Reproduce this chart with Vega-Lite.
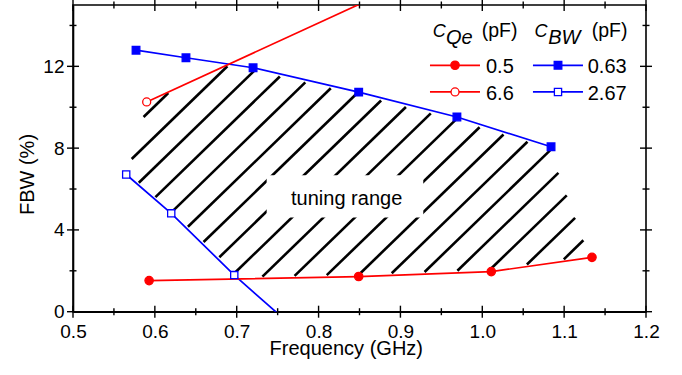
{
  "$schema": "https://vega.github.io/schema/vega-lite/v6.json",
  "width": 573,
  "height": 306.7,
  "autosize": {"type": "none"},
  "padding": {"left": 73, "top": 5, "right": 36, "bottom": 63.3},
  "background": "white",
  "config": {
    "view": {"stroke": "black", "strokeWidth": 1.6},
    "font": "Liberation Sans",
    "axis": {"domainColor": "black", "tickColor": "black", "labelColor": "black", "titleColor": "black", "labelFont": "Liberation Sans", "titleFont": "Liberation Sans", "labelFontSize": 19, "titleFontSize": 20, "titleFontWeight": "normal", "grid": false, "domainWidth": 1.6, "labelFlush": false, "labelOverlap": false}
  },
  "datasets": {
    "hatch": [
      {"x": 0.5862, "y": 9.524, "x2": 0.6164, "y2": 10.694},
      {"x": 0.5717, "y": 7.467, "x2": 0.6886, "y2": 12.003},
      {"x": 0.5804, "y": 6.304, "x2": 0.7216, "y2": 11.788},
      {"x": 0.6007, "y": 5.601, "x2": 0.7527, "y2": 11.505},
      {"x": 0.6211, "y": 4.897, "x2": 0.7838, "y2": 11.217},
      {"x": 0.6404, "y": 4.155, "x2": 0.8149, "y2": 10.928},
      {"x": 0.6595, "y": 3.407, "x2": 0.8461, "y2": 10.645},
      {"x": 0.6788, "y": 2.665, "x2": 0.8764, "y2": 10.327},
      {"x": 0.6981, "y": 1.917, "x2": 0.9067, "y2": 10.010},
      {"x": 0.7314, "y": 1.717, "x2": 0.9371, "y2": 9.697},
      {"x": 0.7707, "y": 1.751, "x2": 0.9674, "y2": 9.380},
      {"x": 0.8100, "y": 1.786, "x2": 0.9967, "y2": 9.023},
      {"x": 0.8495, "y": 1.820, "x2": 1.0259, "y2": 8.666},
      {"x": 0.8894, "y": 1.878, "x2": 1.0552, "y2": 8.310},
      {"x": 0.9295, "y": 1.942, "x2": 1.0828, "y2": 7.890},
      {"x": 0.9696, "y": 2.005, "x2": 1.0930, "y2": 6.790},
      {"x": 1.0096, "y": 2.064, "x2": 1.1032, "y2": 5.691},
      {"x": 1.0545, "y": 2.308, "x2": 1.1134, "y2": 4.592},
      {"x": 1.0996, "y": 2.562, "x2": 1.1235, "y2": 3.493}
    ],
    "series": [
      {"s": "2.67", "f": 0.565, "fbw": 6.71},
      {"s": "2.67", "f": 0.620, "fbw": 4.81},
      {"s": "2.67", "f": 0.697, "fbw": 1.79},
      {"s": "2.67", "f": 0.800, "fbw": -1.85},
      {"s": "0.63", "f": 0.577, "fbw": 12.79},
      {"s": "0.63", "f": 0.638, "fbw": 12.42},
      {"s": "0.63", "f": 0.720, "fbw": 11.93},
      {"s": "0.63", "f": 0.849, "fbw": 10.74},
      {"s": "0.63", "f": 0.969, "fbw": 9.52},
      {"s": "0.63", "f": 1.084, "fbw": 8.07},
      {"s": "6.6", "f": 0.590, "fbw": 10.26},
      {"s": "6.6", "f": 0.900, "fbw": 15.96},
      {"s": "0.5", "f": 0.593, "fbw": 1.52},
      {"s": "0.5", "f": 0.849, "fbw": 1.72},
      {"s": "0.5", "f": 1.011, "fbw": 1.96},
      {"s": "0.5", "f": 1.134, "fbw": 2.66}
    ],
    "legend": [
      {"s": "0.5", "lx": 0.9361, "lx2": 0.9972, "mx": 0.9667, "y": 12.052, "tx": 1.0045, "ty": 11.676},
      {"s": "6.6", "lx": 0.9361, "lx2": 0.9972, "mx": 0.9667, "y": 10.748, "tx": 1.0045, "ty": 10.376},
      {"s": "0.63", "lx": 1.0619, "lx2": 1.1230, "mx": 1.0925, "y": 12.052, "tx": 1.1288, "ty": 11.676},
      {"s": "2.67", "lx": 1.0619, "lx2": 1.1230, "mx": 1.0925, "y": 10.748, "tx": 1.1288, "ty": 10.376}
    ],
    "capC": [{"t": "C", "x": 0.9395, "y": 13.444}, {"t": "C", "x": 1.0638, "y": 13.444}],
    "capSub": [{"t": "Qe", "x": 0.9557, "y": 13.102}, {"t": "BW", "x": 1.0806, "y": 13.102}],
    "capUnit": [{"t": "(pF)", "x": 0.9993, "y": 13.42}, {"t": "(pF)", "x": 1.1336, "y": 13.42}],
    "box": [{"x": 0.7366, "x2": 0.9279, "y": 4.602, "y2": 6.678}],
    "note": [{"t": "tuning range", "x": 0.8343, "y": 5.212}],
    "xMajor": [{"v": 0.5}, {"v": 0.6}, {"v": 0.7}, {"v": 0.8}, {"v": 0.9}, {"v": 1.0}, {"v": 1.1}, {"v": 1.2}],
    "xMinor": [{"v": 0.55}, {"v": 0.65}, {"v": 0.75}, {"v": 0.85}, {"v": 0.95}, {"v": 1.05}, {"v": 1.15}],
    "yMajor": [{"v": 0}, {"v": 4}, {"v": 8}, {"v": 12}],
    "yMinor": [{"v": 2}, {"v": 6}, {"v": 10}, {"v": 14}]
  },
  "layer": [
    {
      "data": {"name": "hatch"},
      "mark": {"type": "rule", "color": "black", "strokeWidth": 2.6, "strokeCap": "butt"},
      "encoding": {
        "x": {"field": "x", "type": "quantitative", "scale": {"domain": [0.5, 1.2], "nice": false, "zero": false},
          "axis": {"orient": "bottom", "values": [0.5, 0.6, 0.7, 0.8, 0.9, 1.0, 1.1, 1.2], "format": ".1f", "ticks": false, "labelPadding": 25.3, "labelBaseline": "alphabetic", "title": "Frequency (GHz)", "titleX": 272.8, "titleY": 42.5, "titleBaseline": "alphabetic", "titleAlign": "center"}},
        "y": {"field": "y", "type": "quantitative", "scale": {"domain": [0, 15], "nice": false, "zero": false},
          "axis": {"orient": "left", "values": [0, 4, 8, 12], "ticks": false, "labelPadding": 9, "title": "FBW (%)", "titleX": -40, "titleY": 169, "titleBaseline": "alphabetic", "titleAlign": "center"}},
        "x2": {"field": "x2"},
        "y2": {"field": "y2"}
      }
    },
    {
      "data": {"name": "box"},
      "mark": {"type": "rect", "fill": "white", "stroke": null},
      "encoding": {
        "x": {"field": "x", "type": "quantitative"},
        "y": {"field": "y", "type": "quantitative"},
        "x2": {"field": "x2"},
        "y2": {"field": "y2"}
      }
    },
    {
      "data": {"name": "note"},
      "mark": {"type": "text", "font": "Liberation Sans", "fontSize": 20, "align": "center", "baseline": "alphabetic", "color": "black"},
      "encoding": {
        "x": {"field": "x", "type": "quantitative"},
        "y": {"field": "y", "type": "quantitative"},
        "text": {"field": "t"}
      }
    },
    {
      "data": {"name": "xMajor"},
      "mark": {"type": "tick", "orient": "vertical", "color": "black", "size": 12, "thickness": 1.4, "opacity": 1},
      "encoding": {"x": {"field": "v", "type": "quantitative"}, "y": {"datum": 0}}
    },
    {
      "data": {"name": "xMinor"},
      "mark": {"type": "tick", "orient": "vertical", "color": "black", "size": 7, "thickness": 1.4, "opacity": 1},
      "encoding": {"x": {"field": "v", "type": "quantitative"}, "y": {"datum": 0}}
    },
    {
      "data": {"name": "xMajor"},
      "mark": {"type": "tick", "orient": "vertical", "color": "black", "size": 12, "thickness": 1.4, "opacity": 1},
      "encoding": {"x": {"field": "v", "type": "quantitative"}, "y": {"datum": 15}}
    },
    {
      "data": {"name": "xMinor"},
      "mark": {"type": "tick", "orient": "vertical", "color": "black", "size": 7, "thickness": 1.4, "opacity": 1},
      "encoding": {"x": {"field": "v", "type": "quantitative"}, "y": {"datum": 15}}
    },
    {
      "data": {"name": "yMajor"},
      "mark": {"type": "tick", "orient": "horizontal", "color": "black", "size": 12, "thickness": 1.4, "opacity": 1},
      "encoding": {"y": {"field": "v", "type": "quantitative"}, "x": {"datum": 0.5}}
    },
    {
      "data": {"name": "yMinor"},
      "mark": {"type": "tick", "orient": "horizontal", "color": "black", "size": 7, "thickness": 1.4, "opacity": 1},
      "encoding": {"y": {"field": "v", "type": "quantitative"}, "x": {"datum": 0.5}}
    },
    {
      "data": {"name": "yMajor"},
      "mark": {"type": "tick", "orient": "horizontal", "color": "black", "size": 12, "thickness": 1.4, "opacity": 1},
      "encoding": {"y": {"field": "v", "type": "quantitative"}, "x": {"datum": 1.2}}
    },
    {
      "data": {"name": "yMinor"},
      "mark": {"type": "tick", "orient": "horizontal", "color": "black", "size": 7, "thickness": 1.4, "opacity": 1},
      "encoding": {"y": {"field": "v", "type": "quantitative"}, "x": {"datum": 1.2}}
    },
    {
      "data": {"name": "series"},
      "mark": {"type": "line", "strokeWidth": 1.7, "clip": true},
      "encoding": {
        "x": {"field": "f", "type": "quantitative"},
        "y": {"field": "fbw", "type": "quantitative"},
        "stroke": {"field": "s", "type": "nominal", "scale": {"domain": ["0.5", "6.6", "0.63", "2.67"], "range": ["#ff0000", "#ff0000", "#0000ff", "#0000ff"]}, "legend": null},
        "order": {"field": "f", "type": "quantitative"}
      }
    },
    {
      "data": {"name": "series"},
      "mark": {"type": "point", "filled": true, "strokeWidth": 1.3, "opacity": 1, "clip": true},
      "encoding": {
        "x": {"field": "f", "type": "quantitative"},
        "y": {"field": "fbw", "type": "quantitative"},
        "stroke": {"field": "s", "type": "nominal", "legend": null},
        "fill": {"field": "s", "type": "nominal", "scale": {"domain": ["0.5", "6.6", "0.63", "2.67"], "range": ["#ff0000", "#ffffff", "#0000ff", "#ffffff"]}, "legend": null},
        "shape": {"field": "s", "type": "nominal", "scale": {"domain": ["0.5", "6.6", "0.63", "2.67"], "range": ["circle", "circle", "square", "square"]}, "legend": null},
        "size": {"field": "s", "type": "nominal", "scale": {"domain": ["0.5", "6.6", "0.63", "2.67"], "range": [70, 52, 56, 50]}, "legend": null}
      }
    },
    {
      "data": {"name": "legend"},
      "mark": {"type": "rule", "strokeWidth": 1.7},
      "encoding": {
        "x": {"field": "lx", "type": "quantitative"},
        "x2": {"field": "lx2"},
        "y": {"field": "y", "type": "quantitative"},
        "stroke": {"field": "s", "type": "nominal", "legend": null}
      }
    },
    {
      "data": {"name": "legend"},
      "mark": {"type": "point", "filled": true, "strokeWidth": 1.3, "opacity": 1},
      "encoding": {
        "x": {"field": "mx", "type": "quantitative"},
        "y": {"field": "y", "type": "quantitative"},
        "stroke": {"field": "s", "type": "nominal", "legend": null},
        "fill": {"field": "s", "type": "nominal", "legend": null},
        "shape": {"field": "s", "type": "nominal", "legend": null},
        "size": {"field": "s", "type": "nominal", "legend": null}
      }
    },
    {
      "data": {"name": "legend"},
      "mark": {"type": "text", "font": "Liberation Sans", "fontSize": 20, "align": "left", "baseline": "alphabetic", "color": "black"},
      "encoding": {
        "x": {"field": "tx", "type": "quantitative"},
        "y": {"field": "ty", "type": "quantitative"},
        "text": {"field": "s"}
      }
    },
    {
      "data": {"name": "capC"},
      "mark": {"type": "text", "font": "Liberation Sans", "fontSize": 18, "fontStyle": "italic", "align": "left", "baseline": "alphabetic", "color": "black"},
      "encoding": {
        "x": {"field": "x", "type": "quantitative"},
        "y": {"field": "y", "type": "quantitative"},
        "text": {"field": "t"}
      }
    },
    {
      "data": {"name": "capSub"},
      "mark": {"type": "text", "font": "Liberation Sans", "fontSize": 20, "fontStyle": "italic", "align": "left", "baseline": "alphabetic", "color": "black"},
      "encoding": {
        "x": {"field": "x", "type": "quantitative"},
        "y": {"field": "y", "type": "quantitative"},
        "text": {"field": "t"}
      }
    },
    {
      "data": {"name": "capUnit"},
      "mark": {"type": "text", "font": "Liberation Sans", "fontSize": 19.5, "align": "left", "baseline": "alphabetic", "color": "black"},
      "encoding": {
        "x": {"field": "x", "type": "quantitative"},
        "y": {"field": "y", "type": "quantitative"},
        "text": {"field": "t"}
      }
    }
  ]
}
